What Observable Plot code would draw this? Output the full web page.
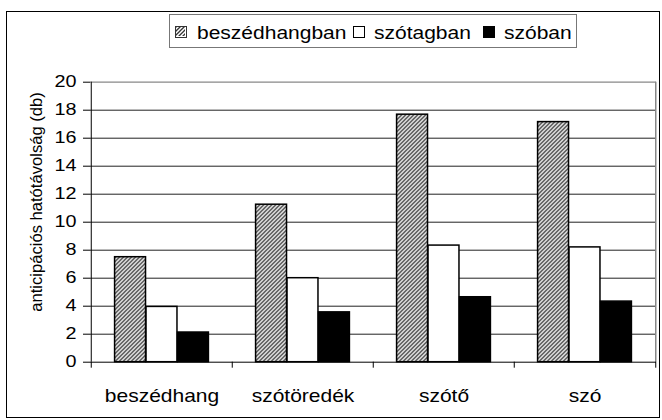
<!DOCTYPE html>
<html>
<head>
<meta charset="utf-8">
<script src="https://cdn.jsdelivr.net/npm/d3@7"></script>
<script src="https://cdn.jsdelivr.net/npm/@observablehq/plot@0.6"></script>
<style>
  body { margin: 0; background: #fff; }
  #wrap { position: relative; width: 662px; height: 420px; font-family: "Liberation Sans", Arial, sans-serif; }
  #frame { position: absolute; left: 6px; top: 11px; width: 654px; height: 407px; border: 1.5px solid #000; box-sizing: border-box; }
  #chart { position: absolute; left: 0; top: 0; }
  #legend { position: absolute; left: 169px; top: 14px; width: 408px; height: 34px; border: 1px solid #777; box-sizing: border-box; background: #fff; }
  .sw { position: absolute; width: 12px; height: 12px; box-sizing: border-box; border: 1.5px solid #000; }
  .lt { position: absolute; font-size: 17.5px; line-height: 17.5px; white-space: nowrap; transform: scaleX(1.2); transform-origin: 0 0; color: #000; }
  #ylabel { position: absolute; left: 37px; top: 202px; font-size: 16.6px; line-height: 16.6px; white-space: nowrap; transform: translate(-50%, -50%) rotate(-90deg); color: #000; }
</style>
</head>
<body>
<svg width="0" height="0" style="position:absolute">
  <defs>
    <pattern id="hatch" patternUnits="userSpaceOnUse" width="4" height="4">
      <rect width="4" height="4" fill="#fff"></rect>
      <path d="M-1,1 L1,-1 M0,4 L4,0 M3,5 L5,3" stroke="#333" stroke-width="1.35"></path>
    </pattern>
  </defs>
</svg>
<div id="wrap">
  <div id="frame"></div>
  <div id="chart"></div>
  <div id="legend"></div>
  <div id="ylabel"></div>
</div>
<script>
const categories = ["beszédhang", "szótöredék", "szótő", "szó"];
const series = ["beszédhangban", "szótagban", "szóban"];
const beszedhangban = [7.5, 11.25, 17.68, 17.15];
const szotagban = [3.95, 6.0, 8.33, 8.2];
const szoban = [2.12, 3.56, 4.64, 4.33];
const yTicks = [0, 2, 4, 6, 8, 10, 12, 14, 16, 18, 20];
const yLabel = "anticipációs hatótávolság (db)";

const W = 662, H = 420;
const mL = 90, mR = 6, mT = 81.7, mB = 58.3;
const step = (W - mL - mR) / categories.length;
const bw = step / 4.5;
const inset = (step - bw) / 2;

const fills = ["url(#hatch)", "#fff", "#000"];
const valuesBySeries = [beszedhangban, szotagban, szoban];

const rows = valuesBySeries.map((vals, s) =>
  categories.map((c, i) => ({ category: c, series: series[s], value: vals[i] }))
);

const barMarks = rows.map((data, s) =>
  Plot.barY(data, {
    x: "category", y: "value",
    fill: fills[s], stroke: "#000", strokeWidth: 1.5,
    insetLeft: inset, insetRight: inset,
    dx: (s - 1) * bw
  })
);

const chart = Plot.plot({
  width: W, height: H,
  marginLeft: mL, marginRight: mR, marginTop: mT, marginBottom: mB,
  style: { fontFamily: "'Liberation Sans', Arial, sans-serif", background: "transparent", color: "#000", overflow: "visible" },
  x: { domain: categories, padding: 0 },
  y: { domain: [0, 20] },
  marks: [
    Plot.ruleY(yTicks.filter(d => d > 0 && d < 20), { stroke: "#222", strokeWidth: 1 }),
    Plot.ruleY([20], { stroke: "#888", strokeWidth: 1.2 }),
    Plot.ruleX([categories[categories.length - 1]], { dx: step / 2, stroke: "#888", strokeWidth: 1.5 }),
    ...barMarks,
    Plot.ruleX([categories[0]], { dx: -step / 2, stroke: "#000", strokeWidth: 1 }),
    Plot.ruleY([0], { stroke: "#000", strokeWidth: 1 }),
    Plot.ruleX(categories, { dx: -step / 2, y1: 0, y2: 0, insetBottom: -6, stroke: "#000" }),
    Plot.ruleX([categories[categories.length - 1]], { dx: step / 2, y1: 0, y2: 0, insetBottom: -6, stroke: "#000" }),
    Plot.axisY({ ticks: yTicks, tickSize: 7, tickPadding: 7, fontSize: 16.5, tickFormat: d => String(d), label: null, stroke: "#000" }),
    Plot.axisX({ tickSize: 0, tickPadding: 27, fontSize: 17.5, label: null })
  ]
});

chart.querySelectorAll('g[aria-label="y-axis tick label"] text, g[aria-label="x-axis tick label"] text').forEach(t => {
  t.setAttribute("transform", (t.getAttribute("transform") || "") + " scale(1.2,1)");
});

document.getElementById("chart").appendChild(chart);
document.getElementById("ylabel").textContent = yLabel;

// legend
const legend = document.getElementById("legend");
const swLeft = [174, 352, 482];
const txtLeft = [196, 373, 503];
series.forEach((s, i) => {
  const sw = document.createElement("div");
  sw.className = "sw";
  sw.style.left = (swLeft[i] - 169) + "px";
  sw.style.top = (24.5 - 14) + "px";
  if (i === 0) {
    sw.style.background = "#fff";
    sw.innerHTML = '<svg width="9" height="9" style="display:block"><rect width="9" height="9" fill="url(#hatch)"/></svg>';
    sw.style.borderColor = "#333";
    sw.style.borderWidth = "1px";
  } else {
    sw.style.background = fills[i];
  }
  legend.appendChild(sw);
  const t = document.createElement("div");
  t.className = "lt";
  t.textContent = s;
  t.style.left = (txtLeft[i] - 169) + "px";
  t.style.top = (23.5 - 14) + "px";
  legend.appendChild(t);
});
</script>
</body>
</html>
